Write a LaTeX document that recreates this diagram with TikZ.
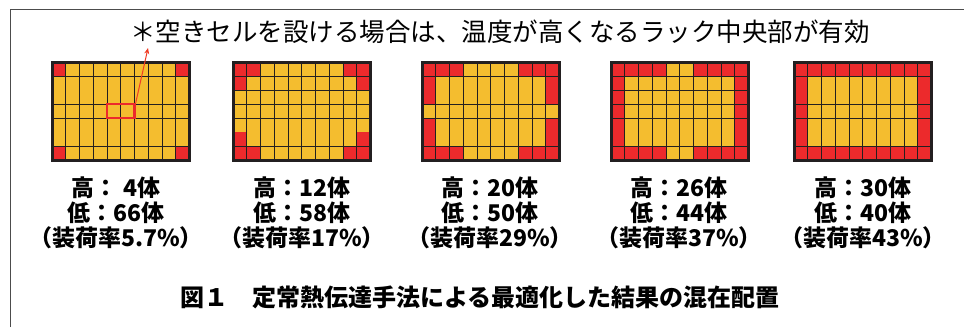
\documentclass[tikz,border=0pt]{standalone}
\usepackage{fontspec}
\setmainfont{Noto Sans CJK JP}
\newfontfamily\jpfont{Noto Sans CJK JP}
\usetikzlibrary{arrows.meta}
\definecolor{cellyellow}{HTML}{F4BD2F}
\definecolor{cellred}{HTML}{EC2A2C}
\definecolor{framedark}{HTML}{231F20}
\tikzset{
  gridline/.style={draw=framedark, line width=1pt},
  rackframe/.style={draw=framedark, line width=3pt},
  lbl/.style={font=\jpfont\bfseries\fontsize{23}{25}\selectfont, align=center, inner sep=0pt},
}
\newcommand\rackgrid[4]{%
  \begin{scope}[shift={(#1,-62)}]
    \fill[cellyellow] (0,0) rectangle (137.5,-98);
    \foreach \c/\r in {#2} \fill[cellred] ({(\c-1)*13.75},{-(\r-1)*14}) rectangle ++(13.75,-14);
    \foreach \i in {1,...,9} \draw[gridline] ({\i*13.75},0) -- ({\i*13.75},-98);
    \foreach \j in {#3} \draw[gridline] (0,{-\j*14}) -- (137.5,{-\j*14});
    \draw[rackframe] (0,0) rectangle (137.5,-98);
    \coordinate (#4) at (68.75,-49);
  \end{scope}}
\begin{document}
\begin{tikzpicture}[x=1pt,y=1pt]
\useasboundingbox (0,0) rectangle (964,-327);
\draw[line width=1.8pt, draw=black!70] (10.5,-327) -- (10.5,-9.5) -- (964,-9.5);
\node[font=\jpfont\fontsize{25.5}{28}\selectfont, inner sep=0pt] (title) at (500,-32) {＊空きセルを設ける場合は、温度が高くなるラック中央部が有効};
\coordinate (ast) at (148,-48);
% grids
\rackgrid{52}{1/1,10/1,1/7,10/7}{1,3,4,6}{g1}
\rackgrid{233}{1/1,2/1,9/1,10/1,1/2,10/2,1/6,10/6,1/7,2/7,9/7,10/7}{1,2,3,4,6}{g2}
\rackgrid{422}{1/1,2/1,3/1,8/1,9/1,10/1,1/2,10/2,1/3,10/3,1/5,10/5,1/6,10/6,1/7,2/7,3/7,8/7,9/7,10/7}{1,3,4,6}{g3}
\rackgrid{611}{1/1,2/1,3/1,4/1,7/1,8/1,9/1,10/1,1/2,10/2,1/3,10/3,1/4,10/4,1/5,10/5,1/6,10/6,1/7,2/7,3/7,4/7,7/7,8/7,9/7,10/7}{1,2,3,4,6}{g4}
\rackgrid{794}{1/1,2/1,3/1,4/1,5/1,6/1,7/1,8/1,9/1,10/1,1/2,10/2,1/3,10/3,1/4,10/4,1/5,10/5,1/6,10/6,1/7,2/7,3/7,4/7,5/7,6/7,7/7,8/7,9/7,10/7}{1,3,4,6}{g5}
% empty cell marker
\node[draw=cellred, line width=2.5pt, minimum width=27.5pt, minimum height=14pt, inner sep=0pt] (empty) at (120.75,-111) {};
\draw[draw=cellred!80!orange, line width=1pt, -{Stealth[length=6pt,width=5pt]}] (empty.north east) -- (ast);
% labels
\node[lbl] (l1) at (116,-213) {高： 4体\\低：66体\\（装荷率5.7\%）};
\node[lbl] (l2) at (302,-213) {高：12体\\低：58体\\（装荷率17\%）};
\node[lbl] (l3) at (490,-213) {高：20体\\低：50体\\（装荷率29\%）};
\node[lbl] (l4) at (679,-213) {高：26体\\低：44体\\（装荷率37\%）};
\node[lbl] (l5) at (863,-213) {高：30体\\低：40体\\（装荷率43\%）};
\node[font=\jpfont\bfseries\fontsize{24}{26}\selectfont, inner sep=0pt] (cap) at (480,-297) {図１　定常熱伝達手法による最適化した結果の混在配置};
\end{tikzpicture}
\end{document}
